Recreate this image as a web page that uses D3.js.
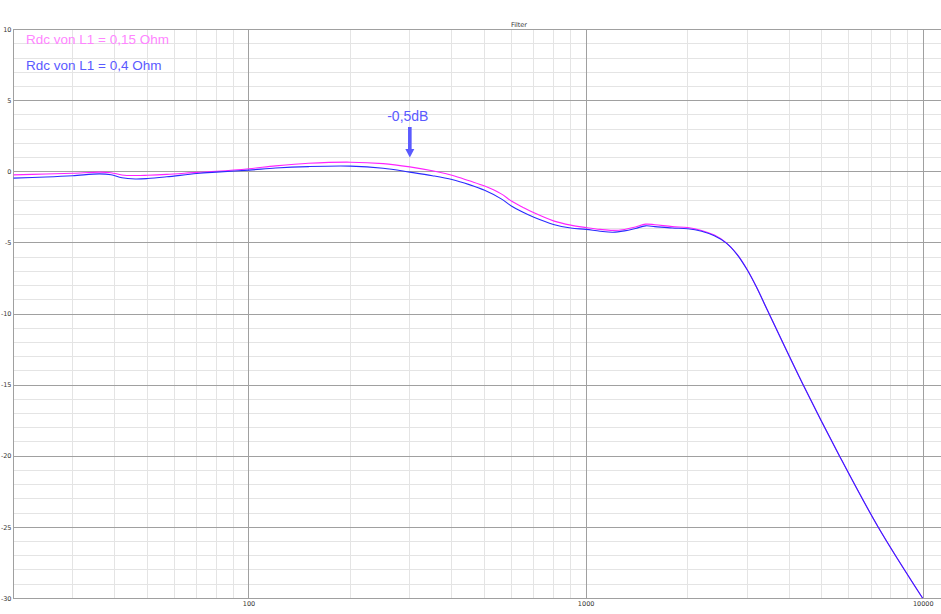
<!DOCTYPE html>
<html>
<head>
<meta charset="utf-8">
<script src="https://cdn.jsdelivr.net/npm/d3@7"></script>
<style>
  body { margin: 0; background: #fff; }
  svg { display: block; }
</style>
</head>
<body>
<div id="vis"></div>
<script>
var width = 941,
    height = 614;

// values
var freqs  = [20, 25, 30, 36, 39, 42, 46, 50, 57, 70, 80, 100, 120, 150, 200, 250, 300, 350, 400, 450, 500, 560, 600, 650, 700, 800, 900, 1000, 1100, 1200, 1300, 1400, 1500, 1600, 1800, 2000, 2200, 2400, 2600, 2800, 3000, 3200, 3444, 4375, 5632, 7353, 9959];
var rdc015 = [-0.21, -0.15, -0.1, -0.02, -0.06, -0.22, -0.26, -0.24, -0.18, -0.04, 0.04, 0.22, 0.42, 0.6, 0.68, 0.58, 0.35, 0.08, -0.24, -0.63, -1.0, -1.55, -2.05, -2.5, -2.88, -3.45, -3.75, -3.92, -4.05, -4.12, -4.05, -3.88, -3.68, -3.72, -3.85, -3.92, -4.12, -4.45, -4.98, -5.78, -6.85, -8.1, -9.7, -14.85, -19.95, -25, -30];
var rdc04  = [-0.44, -0.36, -0.27, -0.14, -0.2, -0.42, -0.5, -0.47, -0.35, -0.12, -0.02, 0.12, 0.27, 0.37, 0.4, 0.25, -0.02, -0.27, -0.54, -0.9, -1.3, -1.9, -2.4, -2.85, -3.2, -3.7, -3.95, -4.05, -4.18, -4.25, -4.15, -3.98, -3.8, -3.85, -3.95, -4.0, -4.18, -4.5, -5.0, -5.8, -6.87, -8.1, -9.7, -14.85, -19.95, -25, -30];

var seriesNames = ["Rdc von L1 = 0,15 Ohm", "Rdc von L1 = 0,4 Ohm"];
var xMajor = [100, 1000, 10000];
var yMajor = d3.range(-30, 11, 5);
var title = "Filter";
var note = "-0,5dB";
var noteFreq = 300;

var pLeft = 13.3, pTop = 29.7, pBottom = 598.3;

var x = d3.scaleLog().domain([20, 10000]).range([pLeft, 923.3]);
var y = d3.scaleLinear().domain([-30, 10]).range([pBottom, pTop]);

var xMinor = [];
[10, 100, 1000].forEach(function (dec) {
    for (var m = 2; m <= 9; m++) if (dec * m > 20) xMinor.push(dec * m);
});
var yMinor = d3.range(-30, 11, 1).filter(function (d) { return d % 5 !== 0; });

const svg = d3.select("#vis").append("svg")
    .attr("width", width)
    .attr("height", height);

svg.append("defs").append("clipPath").attr("id", "plot")
    .append("rect")
    .attr("x", pLeft).attr("y", pTop)
    .attr("width", width - pLeft).attr("height", pBottom - pTop);

const grid = svg.append("g").attr("shape-rendering", "crispEdges");

grid.append("g").selectAll("line")
    .data(yMinor)
    .join("line")
    .attr("x1", pLeft).attr("x2", width)
    .attr("y1", d => y(d)).attr("y2", d => y(d))
    .attr("stroke", "#e4e4e4");

grid.append("g").selectAll("line")
    .data(xMinor)
    .join("line")
    .attr("x1", d => x(d)).attr("x2", d => x(d))
    .attr("y1", pTop).attr("y2", pBottom)
    .attr("stroke", "#e4e4e4");

grid.append("g").selectAll("line")
    .data(yMajor)
    .join("line")
    .attr("x1", pLeft).attr("x2", width)
    .attr("y1", d => y(d)).attr("y2", d => y(d))
    .attr("stroke", "#a0a0a0");

grid.append("g").selectAll("line")
    .data(xMajor.concat([20]))
    .join("line")
    .attr("x1", d => x(d)).attr("x2", d => x(d))
    .attr("y1", pTop).attr("y2", pBottom)
    .attr("stroke", "#a0a0a0");

// tick labels
svg.append("g")
    .attr("font-family", "DejaVu Sans, sans-serif")
    .attr("font-size", 6.5)
    .attr("fill", "#333")
    .selectAll("text")
    .data(yMajor)
    .join("text")
    .attr("x", 11.5)
    .attr("y", d => y(d))
    .attr("dy", "0.35em")
    .attr("text-anchor", "end")
    .text(d => d);

svg.append("g")
    .attr("font-family", "DejaVu Sans, sans-serif")
    .attr("font-size", 6.5)
    .attr("fill", "#333")
    .selectAll("text")
    .data(xMajor)
    .join("text")
    .attr("x", d => x(d))
    .attr("y", pBottom + 8)
    .attr("text-anchor", "middle")
    .text(d => d);

svg.append("text")
    .attr("x", 519)
    .attr("y", 27)
    .attr("text-anchor", "middle")
    .attr("font-family", "DejaVu Sans, sans-serif")
    .attr("font-size", 6.5)
    .attr("fill", "#333")
    .text(title);

// curves
var line = d3.line()
    .x(d => x(d[0]))
    .y(d => y(d[1]))
    .curve(d3.curveCatmullRom.alpha(0.5));

const curves = svg.append("g").attr("clip-path", "url(#plot)").attr("fill", "none");
curves.append("path")
    .attr("d", line(freqs.map((f, i) => [f, rdc015[i]])))
    .attr("stroke", "#ff22ff")
    .attr("stroke-width", 1.1);
curves.append("path")
    .attr("d", line(freqs.map((f, i) => [f, rdc04[i]])))
    .attr("stroke", "#2a2aff")
    .attr("stroke-width", 1.1);

// legend
svg.append("g")
    .attr("font-family", "Liberation Sans, Arial, sans-serif")
    .attr("font-size", 13.5)
    .selectAll("text")
    .data(seriesNames)
    .join("text")
    .attr("x", 26)
    .attr("y", (d, i) => 44 + i * 25.5)
    .attr("fill", (d, i) => i === 0 ? "#ff85ff" : "#5a5aff")
    .text(d => d);

// annotation
var ax = x(noteFreq);
svg.append("text")
    .attr("x", ax - 2)
    .attr("y", 121)
    .attr("text-anchor", "middle")
    .attr("font-family", "Liberation Sans, Arial, sans-serif")
    .attr("font-size", 14)
    .attr("fill", "#5a5aff")
    .text(note);
svg.append("rect")
    .attr("x", ax - 1.8).attr("y", 127)
    .attr("width", 3.6).attr("height", 23)
    .attr("fill", "#5a5aff");
svg.append("path")
    .attr("d", `M${ax - 4.5},149 L${ax + 4.5},149 L${ax},157.5 Z`)
    .attr("fill", "#5a5aff");
</script>
</body>
</html>
